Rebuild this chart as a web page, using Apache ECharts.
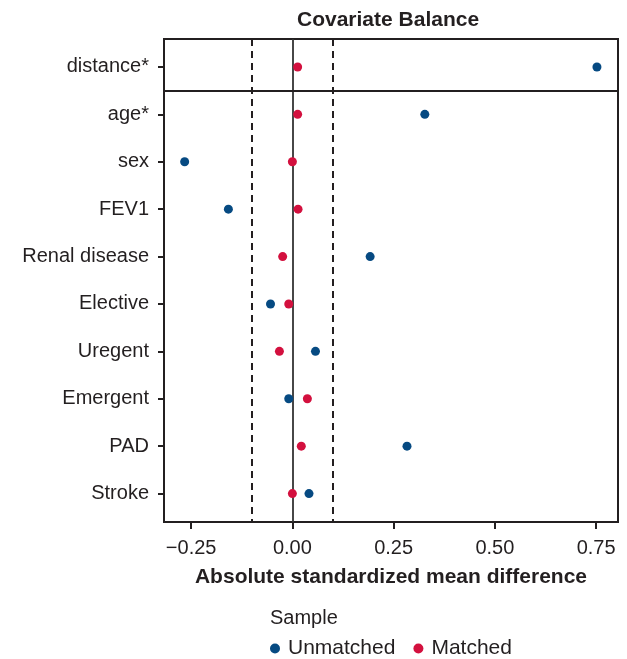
<!DOCTYPE html>
<html>
<head>
<meta charset="utf-8">
<script src="https://cdn.jsdelivr.net/npm/echarts@6/dist/echarts.min.js"></script>
<style>
  html, body { margin: 0; padding: 0; background: #fff; }
  #chart { width: 627px; height: 659px; }
</style>
</head>
<body>
<div id="chart"></div>
<script>
// Covariates, listed top to bottom
const covariates = ['distance*', 'age*', 'sex', 'FEV1', 'Renal disease', 'Elective', 'Uregent', 'Emergent', 'PAD', 'Stroke'];
// Standardized mean differences before matching
const unmatched = [0.752, 0.327, -0.266, -0.158, 0.192, -0.054, 0.057, -0.009, 0.283, 0.041];
// Standardized mean differences after matching
const matched = [0.013, 0.013, 0.000, 0.014, -0.024, -0.009, -0.032, 0.037, 0.022, 0.000];
// X axis tick values
const xTicks = [-0.25, 0, 0.25, 0.5, 0.75];
// Balance threshold lines
const thresholds = [-0.1, 0.1];

const FONT = '"Liberation Sans", Arial, Helvetica, sans-serif';
const INK = '#231f20';
const BLUE = '#064a82';
const RED = '#d3103e';

const rowPositions = covariates.map((_, i) => i + 1);
const toPoints = vals => vals.map((v, i) => [v, i + 1]);

const chart = echarts.init(document.getElementById('chart'), null, { renderer: 'canvas' });

chart.setOption({
  animation: false,
  backgroundColor: '#fff',
  textStyle: { fontFamily: FONT },
  title: {
    text: 'Covariate Balance',
    left: 297,
    top: 10,
    padding: 0,
    textStyle: { fontFamily: FONT, fontSize: 21, fontWeight: 'bold', color: INK }
  },
  grid: {
    left: 164, right: 9, top: 39, bottom: 137,
    show: true, borderColor: INK, borderWidth: 2, backgroundColor: 'transparent'
  },
  xAxis: {
    type: 'value',
    min: -0.317,
    max: 0.804,
    name: 'Absolute standardized mean difference',
    nameLocation: 'middle',
    nameGap: 45,
    nameTextStyle: { fontFamily: FONT, fontSize: 21, fontWeight: 'bold', color: INK },
    axisLine: { show: true, onZero: false, lineStyle: { color: INK, width: 2 } },
    axisTick: { show: true, length: 7, lineStyle: { color: INK, width: 2 }, customValues: xTicks },
    axisLabel: {
      customValues: xTicks,
      margin: 16,
      fontFamily: FONT, fontSize: 20, color: INK,
      formatter: v => (v < 0 ? '\u2212' : '') + Math.abs(v).toFixed(2)
    },
    splitLine: { show: false }
  },
  yAxis: {
    type: 'value',
    inverse: true,
    min: 0.41,
    max: 10.6,
    axisLine: { show: true, onZero: false, lineStyle: { color: INK, width: 2 } },
    axisTick: { show: true, length: 6, lineStyle: { color: INK, width: 2 }, customValues: rowPositions },
    axisLabel: {
      customValues: rowPositions,
      margin: 15,
      fontFamily: FONT, fontSize: 20, color: INK,
      formatter: v => covariates[Math.round(v) - 1] || ''
    },
    splitLine: { show: false }
  },
  legend: {
    left: 270,
    top: 638,
    padding: 0,
    itemWidth: 10,
    itemHeight: 10,
    itemGap: 18,
    icon: 'circle',
    textStyle: { fontFamily: FONT, fontSize: 21, color: INK, padding: [0, 0, 0, 3] },
    data: ['Unmatched', 'Matched']
  },
  graphic: [{
    type: 'text',
    left: 270,
    top: 608,
    style: { text: 'Sample', fontFamily: FONT, fontSize: 20, fill: INK }
  }],
  series: [
    {
      name: 'Unmatched',
      type: 'scatter',
      symbolSize: 9,
      itemStyle: { color: BLUE, opacity: 1 },
      data: toPoints(unmatched),
      z: 5,
      markLine: {
        silent: true,
        symbol: 'none',
        label: { show: false },
        animation: false,
        data: [
          { xAxis: 0, lineStyle: { color: '#333', width: 1.8, type: 'solid' } },
          ...thresholds.map(t => ({ xAxis: t, lineStyle: { color: INK, width: 2, type: [7, 5] } })),
          { yAxis: 1.5, lineStyle: { color: INK, width: 2, type: 'solid' } }
        ]
      }
    },
    {
      name: 'Matched',
      type: 'scatter',
      symbolSize: 9,
      itemStyle: { color: RED, opacity: 1 },
      data: toPoints(matched),
      z: 6
    }
  ]
});
</script>
</body>
</html>
